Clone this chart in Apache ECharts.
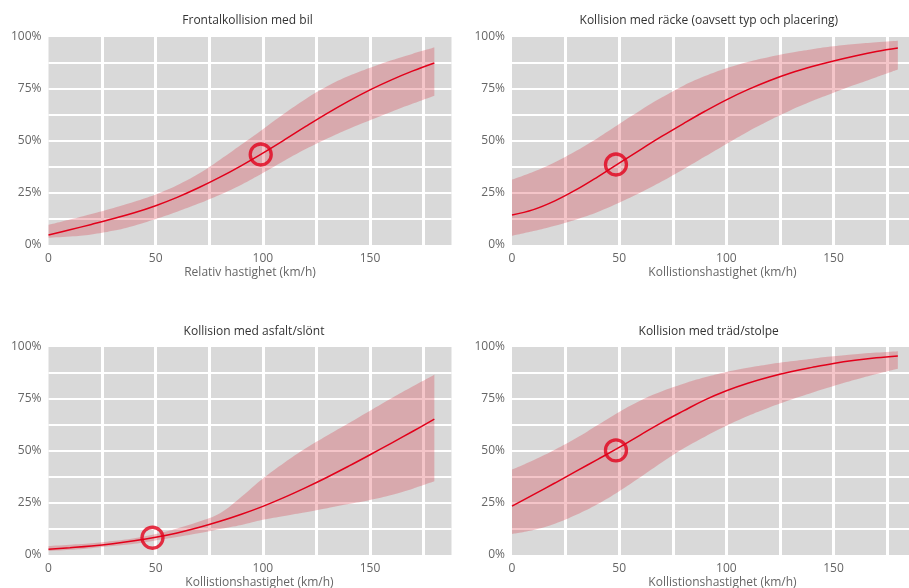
<!DOCTYPE html>
<html>
<head>
<meta charset="utf-8">
<script src="https://cdn.jsdelivr.net/npm/echarts@6/dist/echarts.min.js"></script>
<style>
  html, body { margin: 0; padding: 0; background: #ffffff; }
  #chart { width: 909px; height: 588px; }
</style>
</head>
<body>
<div id="chart"></div>
<script>
// Speed (km/h) at which each curve is sampled
const speeds = [0, 10, 20, 30, 40, 50, 60, 70, 80, 90, 100, 110, 120, 130, 140, 150, 160, 170, 180];

// Frontalkollision med bil: estimate and band (percent)
const frontalLine  = [4.8, 7.3, 9.9, 12.6, 15.5, 18.9, 22.9, 27.5, 32.6, 38.2, 44.2, 50.5, 57.0, 63.3, 69.2, 74.6, 79.4, 83.7, 87.5];
const frontalUpper = [9.6, 12.2, 14.9, 17.7, 20.8, 24.3, 28.7, 34.2, 41.0, 48.3, 55.7, 63.2, 70.2, 76.3, 81.2, 85.2, 88.8, 92.0, 94.9];
const frontalLower = [3.5, 4.1, 5.1, 6.8, 9.3, 12.5, 16.0, 19.9, 24.2, 29.0, 34.6, 40.5, 46.1, 51.2, 55.8, 60.0, 64.1, 68.0, 71.8];
const frontalPoint = [99, 43.5];

// Kollision med räcke
const railLine  = [14.4, 17.0, 21.2, 26.6, 32.8, 39.4, 45.9, 52.3, 58.4, 64.3, 69.8, 74.7, 79.0, 82.7, 85.8, 88.5, 90.9, 93.0, 94.7];
const railUpper = [31.4, 35.2, 39.8, 45.3, 51.5, 58.2, 64.8, 71.0, 76.6, 81.2, 85.0, 88.0, 90.4, 92.4, 94.1, 95.5, 96.6, 97.5, 98.2];
const railLower = [4.4, 6.7, 9.3, 12.3, 15.9, 20.3, 25.2, 30.6, 36.4, 42.5, 48.6, 54.5, 59.9, 64.8, 69.2, 73.2, 77.0, 80.7, 84.4];
const railPoint = [48.5, 38.7];

// Kollision med asfalt/slänt
const ditchLine  = [2.8, 3.5, 4.3, 5.4, 6.8, 8.5, 10.6, 13.2, 16.2, 19.6, 23.4, 27.7, 32.4, 37.4, 42.7, 48.2, 53.8, 59.5, 65.3];
const ditchUpper = [4.3, 4.9, 5.6, 6.7, 8.1, 10.1, 12.8, 16.0, 20.1, 28.0, 36.8, 44.4, 51.3, 57.5, 63.4, 69.4, 75.4, 81.1, 86.7];
const ditchLower = [1.9, 2.5, 3.3, 4.3, 5.4, 7.0, 8.6, 10.4, 12.5, 14.4, 16.9, 18.8, 20.6, 22.5, 24.5, 26.5, 28.9, 31.9, 35.4];
const ditchPoint = [48.5, 8.3];

// Kollision med träd/stolpe
const treeLine  = [23.5, 29.0, 34.6, 40.3, 46.0, 51.7, 57.8, 63.8, 69.3, 74.6, 79.0, 82.6, 85.6, 88.1, 90.2, 92.1, 93.6, 94.8, 95.7];
const treeUpper = [41.1, 45.6, 50.6, 56.2, 62.5, 68.8, 74.3, 78.7, 82.3, 85.4, 88.0, 90.0, 91.7, 93.1, 94.4, 95.5, 96.5, 97.3, 98.0];
const treeLower = [10.1, 12.0, 15.0, 19.3, 24.5, 30.7, 37.5, 44.6, 51.2, 56.9, 62.1, 66.8, 70.9, 74.6, 78.0, 81.2, 84.2, 87.0, 89.6];
const treePoint = [48.5, 50.3];

// Tick labels
const xTickLabels = [0, 50, 100, 150];
const yTickLabels = [0, 25, 50, 75, 100];

const panelTitles = [
  'Frontalkollision med bil',
  'Kollision med räcke (oavsett typ och placering)',
  'Kollision med asfalt/slönt',
  'Kollision med träd/stolpe'
];
const axisNames = [
  'Relativ hastighet (km/h)',
  'Kollistionshastighet (km/h)',
  'Kollistionshastighet (km/h)',
  'Kollistionshastighet (km/h)'
];

const panels = [
  { line: frontalLine, upper: frontalUpper, lower: frontalLower, point: frontalPoint },
  { line: railLine,    upper: railUpper,    lower: railLower,    point: railPoint },
  { line: ditchLine,   upper: ditchUpper,   lower: ditchLower,   point: ditchPoint },
  { line: treeLine,    upper: treeUpper,    lower: treeLower,    point: treePoint }
];

// Layout of the 2x2 panels
const layout = [
  { left: 48.5, top: 37,  titleX: 247.5, titleY: 21,  nameShift: 0 },
  { left: 512,  top: 37,  titleX: 708.8, titleY: 21,  nameShift: 18 },
  { left: 48.5, top: 347, titleX: 254,   titleY: 331.5, nameShift: 19 },
  { left: 512,  top: 347, titleX: 708.7, titleY: 331.5, nameShift: 18 }
];

const FONT = '"Open Sans", "DejaVu Sans", sans-serif';
const RED = '#e2001a';
const BAND = 'rgba(215, 45, 60, 0.28)';

const pairs = (ys) => speeds.map((s, i) => [s, ys[i]]);
// value first, speed second: keeps the stacked dimension on the y axis
const stackPairs = (ys) => speeds.map((s, i) => [ys[i], s]);

const grid = [], xAxis = [], yAxis = [], series = [], graphic = [];

panels.forEach((p, i) => {
  const L = layout[i];
  grid.push({
    left: L.left, top: L.top, width: 403, height: 208,
    show: true, backgroundColor: '#d9d9d9', borderWidth: 0,
    containLabel: false, outerBoundsMode: 'none'
  });
  xAxis.push({
    type: 'value', gridIndex: i, min: 0, max: 188, interval: 25,
    axisLine: { show: false }, axisTick: { show: false },
    axisLabel: {
      margin: 8, color: '#666', fontFamily: FONT, fontSize: 12,
      formatter: (v) => xTickLabels.includes(v) ? String(v) : ''
    },
    splitLine: { show: true, showMinLine: false, showMaxLine: false, lineStyle: { color: '#ffffff', width: 3 } },
    name: axisNames[i], nameLocation: 'middle', nameGap: 22,
    nameTextStyle: { color: '#666', fontFamily: FONT, fontSize: 12, padding: [0, 0, 0, L.nameShift] }
  });
  yAxis.push({
    type: 'value', gridIndex: i, min: 0, max: 100, interval: 12.5,
    axisLine: { show: false }, axisTick: { show: false },
    axisLabel: {
      margin: 7, color: '#666', fontFamily: FONT, fontSize: 12,
      formatter: (v) => yTickLabels.includes(v) ? v + '%' : ''
    },
    splitLine: { show: true, showMinLine: false, showMaxLine: false, lineStyle: { color: '#ffffff', width: 2 } }
  });

  const bandWidth = p.upper.map((u, k) => u - p.lower[k]);
  series.push({
    type: 'line', xAxisIndex: i, yAxisIndex: i, stack: 'band' + i,
    data: stackPairs(p.lower), encode: { x: 1, y: 0 },
    smooth: 0.4, symbol: 'none', silent: true,
    lineStyle: { opacity: 0 }, z: 2
  });
  series.push({
    type: 'line', xAxisIndex: i, yAxisIndex: i, stack: 'band' + i,
    data: stackPairs(bandWidth), encode: { x: 1, y: 0 },
    smooth: 0.4, symbol: 'none', silent: true,
    lineStyle: { opacity: 0 }, areaStyle: { color: BAND, opacity: 1 }, z: 2
  });
  series.push({
    type: 'line', xAxisIndex: i, yAxisIndex: i,
    data: pairs(p.line), smooth: 0.4, symbol: 'none',
    lineStyle: { color: RED, width: 1.5 }, z: 3
  });
  series.push({
    type: 'scatter', xAxisIndex: i, yAxisIndex: i,
    data: [p.point], symbol: 'circle', symbolSize: 21,
    itemStyle: { color: 'rgba(0,0,0,0)', borderColor: RED, borderWidth: 3.3 }, z: 4
  });

  graphic.push({
    type: 'text', x: L.titleX, y: L.titleY, silent: true,
    style: {
      text: panelTitles[i], align: 'center', verticalAlign: 'middle',
      fill: '#333', font: '12px ' + FONT
    }
  });
});

const chart = echarts.init(document.getElementById('chart'), null, { renderer: 'canvas' });
chart.setOption({
  animation: false,
  backgroundColor: '#ffffff',
  grid, xAxis, yAxis, series, graphic
});
</script>
</body>
</html>
